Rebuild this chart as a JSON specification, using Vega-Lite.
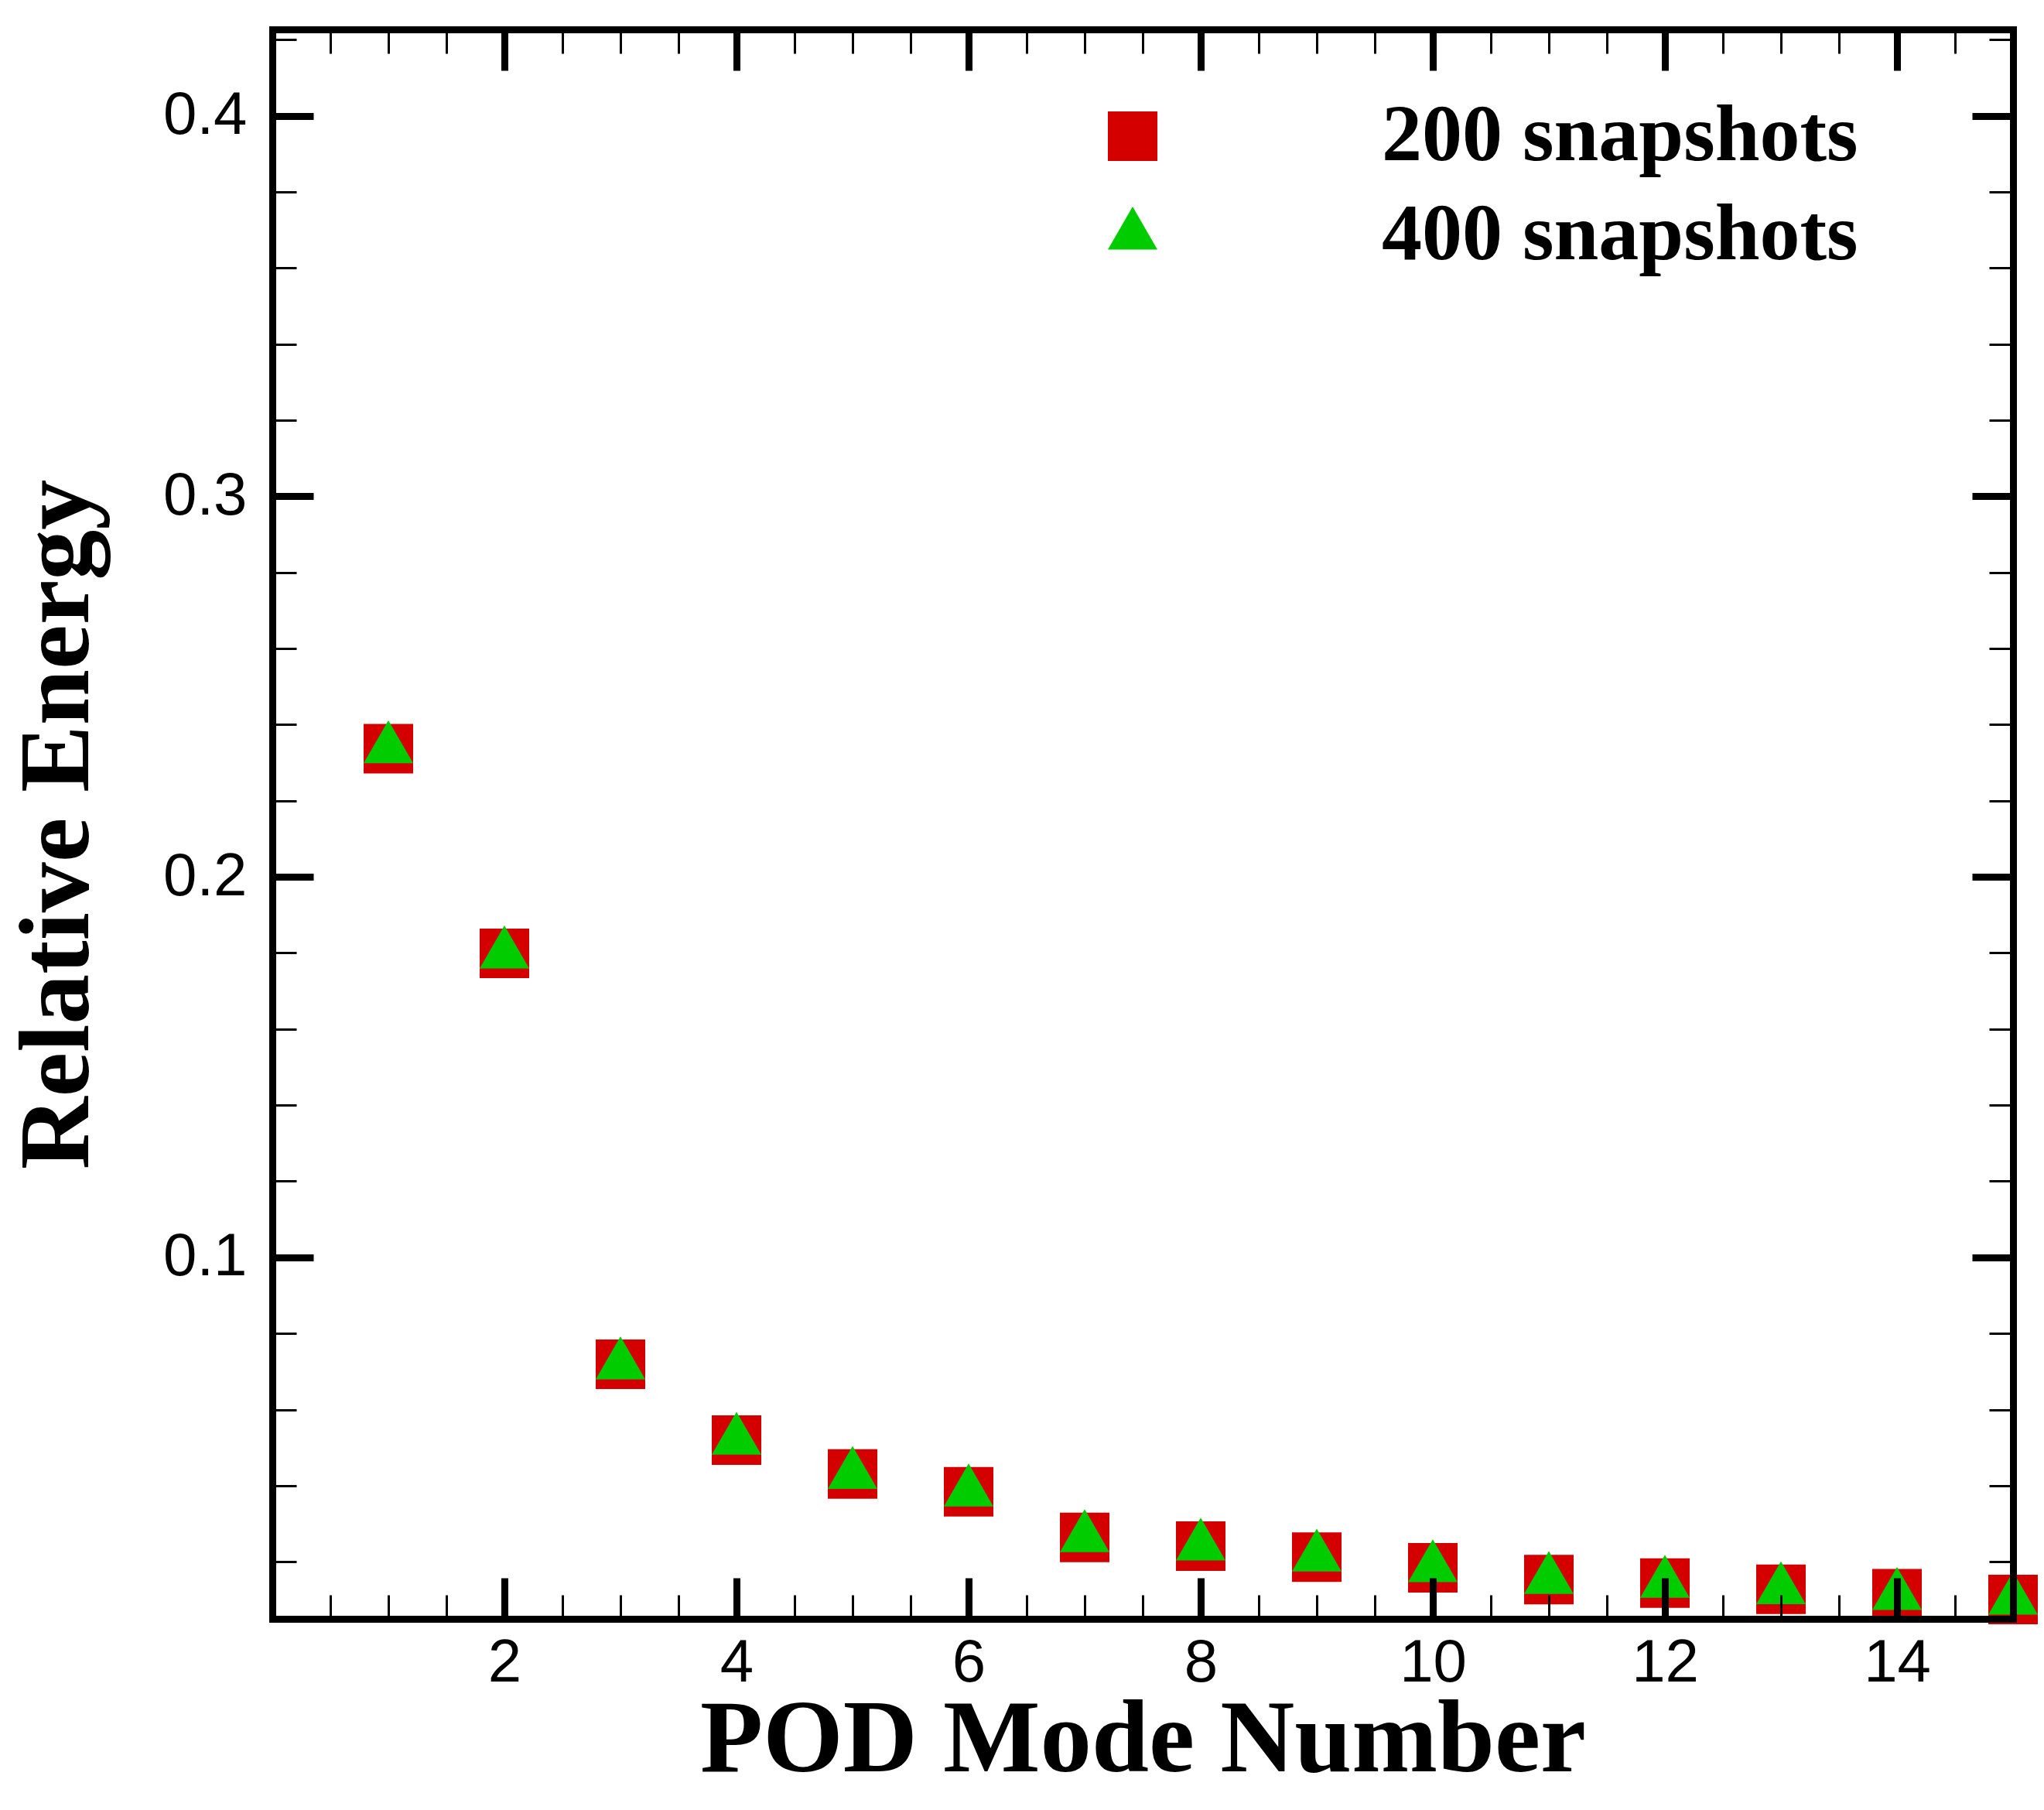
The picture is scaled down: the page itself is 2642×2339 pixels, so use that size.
{
  "$schema": "https://vega.github.io/schema/vega-lite/v6.json",
  "description": "Relative energy of POD modes for 200 and 400 snapshots",
  "width": 2250,
  "height": 2054,
  "autosize": {"type": "none"},
  "padding": {"left": 352, "top": 38, "right": 40, "bottom": 247},
  "background": "white",
  "config": {"view": {"stroke": null}, "axis": {"grid": false}},
  "data": {
    "values": [
      {"mode": 1, "series": "200 snapshots", "energy": 0.2337},
      {"mode": 2, "series": "200 snapshots", "energy": 0.1799},
      {"mode": 3, "series": "200 snapshots", "energy": 0.0719},
      {"mode": 4, "series": "200 snapshots", "energy": 0.0520},
      {"mode": 5, "series": "200 snapshots", "energy": 0.0431},
      {"mode": 6, "series": "200 snapshots", "energy": 0.0384},
      {"mode": 7, "series": "200 snapshots", "energy": 0.0264},
      {"mode": 8, "series": "200 snapshots", "energy": 0.0241},
      {"mode": 9, "series": "200 snapshots", "energy": 0.0212},
      {"mode": 10, "series": "200 snapshots", "energy": 0.0184},
      {"mode": 11, "series": "200 snapshots", "energy": 0.0153},
      {"mode": 12, "series": "200 snapshots", "energy": 0.0144},
      {"mode": 13, "series": "200 snapshots", "energy": 0.0128},
      {"mode": 14, "series": "200 snapshots", "energy": 0.0116},
      {"mode": 15, "series": "200 snapshots", "energy": 0.0101},
      {"mode": 1, "series": "400 snapshots", "energy": 0.2336},
      {"mode": 2, "series": "400 snapshots", "energy": 0.1797},
      {"mode": 3, "series": "400 snapshots", "energy": 0.0717},
      {"mode": 4, "series": "400 snapshots", "energy": 0.0519},
      {"mode": 5, "series": "400 snapshots", "energy": 0.0429},
      {"mode": 6, "series": "400 snapshots", "energy": 0.0383},
      {"mode": 7, "series": "400 snapshots", "energy": 0.0263},
      {"mode": 8, "series": "400 snapshots", "energy": 0.0241},
      {"mode": 9, "series": "400 snapshots", "energy": 0.0212},
      {"mode": 10, "series": "400 snapshots", "energy": 0.0184},
      {"mode": 11, "series": "400 snapshots", "energy": 0.0153},
      {"mode": 12, "series": "400 snapshots", "energy": 0.0143},
      {"mode": 13, "series": "400 snapshots", "energy": 0.0126},
      {"mode": 14, "series": "400 snapshots", "energy": 0.0111},
      {"mode": 15, "series": "400 snapshots", "energy": 0.0099}
    ]
  },
  "layer": [
    {
      "mark": {"type": "point", "filled": true, "opacity": 1, "size": 4096, "strokeWidth": 0},
      "encoding": {
        "x": {
          "field": "mode",
          "type": "quantitative",
          "scale": {"domain": [0, 15], "nice": false, "zero": false},
          "axis": {
            "orient": "bottom",
            "values": [2, 4, 6, 8, 10, 12, 14],
            "ticks": false,
            "domain": false,
            "labelFont": "Liberation Sans",
            "labelFontSize": 78,
            "labelColor": "black",
            "labelPadding": 18,
            "labelFlush": false,
            "labelOverlap": false,
            "title": "POD Mode Number",
            "titleFont": "Liberation Serif",
            "titleFontSize": 133,
            "titleFontWeight": "bold",
            "titleColor": "black",
            "titlePadding": -5
          }
        },
        "y": {
          "field": "energy",
          "type": "quantitative",
          "scale": {"domain": [0.005, 0.4227], "nice": false, "zero": false},
          "axis": {
            "orient": "left",
            "values": [0.1, 0.2, 0.3, 0.4],
            "format": ".1f",
            "ticks": false,
            "domain": false,
            "labelFont": "Liberation Sans",
            "labelFontSize": 78,
            "labelColor": "black",
            "labelPadding": 33,
            "labelFlush": false,
            "labelOverlap": false,
            "title": "Relative Energy",
            "titleFont": "Liberation Serif",
            "titleFontSize": 130,
            "titleFontWeight": "bold",
            "titleColor": "black",
            "titlePadding": 70
          }
        },
        "color": {
          "field": "series",
          "type": "nominal",
          "scale": {"domain": ["200 snapshots", "400 snapshots"], "range": ["#d40000", "#00cc00"]},
          "legend": {
            "orient": "none",
            "legendX": 1060,
            "legendY": 86,
            "title": null,
            "padding": 0,
            "labelFont": "Liberation Serif",
            "labelFontSize": 104,
            "labelFontWeight": "bold",
            "labelColor": "black",
            "labelLimit": 0,
            "labelOffset": 270,
            "symbolSize": 4096,
            "symbolStrokeWidth": 0,
            "symbolOpacity": 1,
            "rowPadding": 24
          }
        },
        "shape": {
          "field": "series",
          "type": "nominal",
          "scale": {"domain": ["200 snapshots", "400 snapshots"], "range": ["square", "M0,-1.1547L1,0.5774L-1,0.5774Z"]},
          "legend": {
            "orient": "none",
            "legendX": 1060,
            "legendY": 86,
            "title": null,
            "padding": 0,
            "labelFont": "Liberation Serif",
            "labelFontSize": 104,
            "labelFontWeight": "bold",
            "labelColor": "black",
            "labelLimit": 0,
            "labelOffset": 270,
            "symbolSize": 4096,
            "symbolStrokeWidth": 0,
            "symbolOpacity": 1,
            "rowPadding": 24
          }
        }
      }
    },
    {
      "mark": {"type": "point", "opacity": 0},
      "encoding": {
        "x": {
          "field": "mode",
          "type": "quantitative",
          "scale": {"domain": [0, 15], "nice": false, "zero": false},
          "axis": {
            "orient": "bottom",
            "values": [0.5, 1, 1.5, 2.5, 3, 3.5, 4.5, 5, 5.5, 6.5, 7, 7.5, 8.5, 9, 9.5, 10.5, 11, 11.5, 12.5, 13, 13.5, 14.5],
            "labels": false,
            "title": null,
            "domain": false,
            "tickSize": -31,
            "tickWidth": 3,
            "tickColor": "black",
            "zindex": 1
          }
        },
        "y": {
          "field": "energy",
          "type": "quantitative",
          "scale": {"domain": [0.005, 0.4227], "nice": false, "zero": false},
          "axis": {
            "orient": "left",
            "values": [0.02, 0.04, 0.06, 0.08, 0.12, 0.14, 0.16, 0.18, 0.22, 0.24, 0.26, 0.28, 0.32, 0.34, 0.36, 0.38, 0.42],
            "labels": false,
            "title": null,
            "domain": false,
            "tickSize": -31,
            "tickWidth": 3,
            "tickColor": "black",
            "zindex": 1
          }
        }
      }
    },
    {
      "mark": {"type": "point", "opacity": 0},
      "encoding": {
        "x": {
          "field": "mode",
          "type": "quantitative",
          "scale": {"domain": [0, 15], "nice": false, "zero": false},
          "axis": {
            "orient": "top",
            "values": [0.5, 1, 1.5, 2.5, 3, 3.5, 4.5, 5, 5.5, 6.5, 7, 7.5, 8.5, 9, 9.5, 10.5, 11, 11.5, 12.5, 13, 13.5, 14.5],
            "labels": false,
            "title": null,
            "domain": false,
            "tickSize": -31,
            "tickWidth": 3,
            "tickColor": "black",
            "zindex": 1
          }
        },
        "y": {
          "field": "energy",
          "type": "quantitative",
          "scale": {"domain": [0.005, 0.4227], "nice": false, "zero": false},
          "axis": {
            "orient": "right",
            "values": [0.02, 0.04, 0.06, 0.08, 0.12, 0.14, 0.16, 0.18, 0.22, 0.24, 0.26, 0.28, 0.32, 0.34, 0.36, 0.38, 0.42],
            "labels": false,
            "title": null,
            "domain": false,
            "tickSize": -31,
            "tickWidth": 3,
            "tickColor": "black",
            "zindex": 1
          }
        }
      }
    },
    {
      "mark": {"type": "point", "opacity": 0},
      "encoding": {
        "x": {
          "field": "mode",
          "type": "quantitative",
          "scale": {"domain": [0, 15], "nice": false, "zero": false},
          "axis": {
            "orient": "bottom",
            "values": [2, 4, 6, 8, 10, 12, 14],
            "labels": false,
            "title": null,
            "domain": true,
            "domainWidth": 9,
            "domainColor": "black",
            "domainCap": "square",
            "tickSize": -53,
            "tickWidth": 9,
            "tickColor": "black",
            "zindex": 1
          }
        },
        "y": {
          "field": "energy",
          "type": "quantitative",
          "scale": {"domain": [0.005, 0.4227], "nice": false, "zero": false},
          "axis": {
            "orient": "left",
            "values": [0.1, 0.2, 0.3, 0.4],
            "labels": false,
            "title": null,
            "domain": true,
            "domainWidth": 9,
            "domainColor": "black",
            "domainCap": "square",
            "tickSize": -53,
            "tickWidth": 9,
            "tickColor": "black",
            "zindex": 1
          }
        }
      }
    },
    {
      "mark": {"type": "point", "opacity": 0},
      "encoding": {
        "x": {
          "field": "mode",
          "type": "quantitative",
          "scale": {"domain": [0, 15], "nice": false, "zero": false},
          "axis": {
            "orient": "top",
            "values": [2, 4, 6, 8, 10, 12, 14],
            "labels": false,
            "title": null,
            "domain": true,
            "domainWidth": 9,
            "domainColor": "black",
            "domainCap": "square",
            "tickSize": -53,
            "tickWidth": 9,
            "tickColor": "black",
            "zindex": 1
          }
        },
        "y": {
          "field": "energy",
          "type": "quantitative",
          "scale": {"domain": [0.005, 0.4227], "nice": false, "zero": false},
          "axis": {
            "orient": "right",
            "values": [0.1, 0.2, 0.3, 0.4],
            "labels": false,
            "title": null,
            "domain": true,
            "domainWidth": 9,
            "domainColor": "black",
            "domainCap": "square",
            "tickSize": -53,
            "tickWidth": 9,
            "tickColor": "black",
            "zindex": 1
          }
        }
      }
    }
  ],
  "resolve": {"axis": {"x": "independent", "y": "independent"}}
}
